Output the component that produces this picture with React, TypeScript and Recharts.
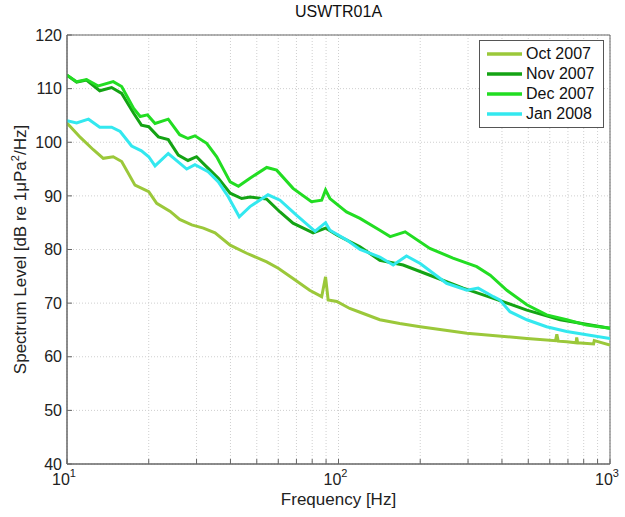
import { LineChart, Line, XAxis, YAxis, CartesianGrid, Legend, ReferenceArea } from "recharts";

// frequencies in Hz, levels in dB re 1 uPa^2/Hz
const octFreq = [10, 11.2, 12.5, 13.6, 14.8, 15.9, 17.8, 20.0, 21.4, 24.0, 26.0, 28.8, 31.8, 35.1, 39.9, 45.9, 54.4, 60.0, 68.0, 78.3, 86.7, 89.6, 91.6, 98.6, 110, 120, 142, 168, 200, 297, 494, 630, 637, 645, 693, 750, 754, 760, 870, 875, 1000];
const octLevel = [103.6, 100.9, 98.6, 97.0, 97.3, 96.4, 92.0, 90.8, 88.6, 87.1, 85.6, 84.6, 84.0, 83.1, 80.8, 79.3, 77.7, 76.5, 74.6, 72.4, 71.2, 74.9, 70.6, 70.3, 69.0, 68.3, 66.9, 66.2, 65.6, 64.4, 63.4, 63.0, 64.2, 62.9, 62.8, 62.6, 63.6, 62.6, 62.4, 63.0, 62.2];

const novFreq = [10, 10.85, 11.8, 13.2, 14.6, 15.9, 17.6, 18.8, 20.0, 21.7, 23.6, 25.7, 27.9, 30.0, 32.7, 36.1, 39.9, 44.0, 47.2, 54.4, 60.9, 68.0, 80.6, 89.6, 98.6, 120, 142, 173, 217, 288, 372, 494, 655, 1000];
const novLevel = [112.5, 111.2, 111.6, 109.6, 110.2, 109.1, 105.4, 103.2, 102.9, 101.0, 100.5, 97.6, 96.6, 97.3, 95.4, 93.3, 90.5, 89.5, 89.8, 89.4, 87.0, 84.9, 83.1, 84.0, 82.7, 80.5, 78.0, 77.1, 75.2, 72.8, 70.9, 68.7, 66.9, 65.3];

const decFreq = [10, 10.85, 11.8, 13.04, 14.8, 15.9, 17.6, 18.6, 19.8, 21.1, 23.6, 26.0, 27.9, 29.6, 32.7, 35.6, 39.9, 42.8, 47.2, 54.4, 59.2, 68.0, 79.5, 86.7, 89.6, 93.0, 107, 120, 142, 155, 176, 217, 264, 323, 362, 417, 494, 584, 693, 820, 1000];
const decLevel = [112.5, 111.3, 111.7, 110.5, 111.3, 110.4, 106.3, 104.8, 105.1, 103.5, 104.3, 101.4, 100.7, 101.2, 99.8, 97.3, 92.6, 91.8, 93.3, 95.3, 94.8, 91.4, 88.9, 89.2, 91.1, 89.5, 87.0, 85.8, 83.6, 82.4, 83.3, 80.2, 78.4, 76.8, 75.2, 72.4, 69.7, 67.8, 66.9, 65.9, 65.3];

const janFreq = [10, 10.85, 12.0, 13.2, 14.6, 15.7, 17.3, 18.8, 20.0, 21.1, 23.6, 27.6, 29.6, 33.1, 36.1, 39.3, 43.1, 47.2, 55.0, 60.9, 70.0, 82.0, 89.6, 93.0, 107, 120, 142, 159, 178, 200, 250, 297, 327, 372, 393, 428, 494, 584, 693, 820, 1000];
const janLevel = [104.0, 103.6, 104.3, 102.8, 102.8, 102.0, 99.3, 98.4, 97.3, 95.6, 97.9, 95.0, 95.8, 94.5, 92.6, 89.8, 86.1, 88.0, 90.2, 89.2, 86.4, 83.4, 85.0, 83.6, 81.8, 80.0, 78.6, 77.1, 78.8, 77.4, 73.7, 72.4, 72.8, 71.2, 70.6, 68.4, 66.9, 65.6, 64.7, 64.1, 63.4];

const xTicks = [10, 20, 30, 40, 50, 60, 70, 80, 90, 100, 200, 300, 400, 500, 600, 700, 800, 900, 1000];
const yTicks = [40, 50, 60, 70, 80, 90, 100, 110, 120];

const toPoints = (f: number[], v: number[]) => f.map((x, i) => ({ f: x, level: v[i] }));

const series = [
  { name: "Oct 2007", color: "#9bc83a", data: toPoints(octFreq, octLevel) },
  { name: "Nov 2007", color: "#14a314", data: toPoints(novFreq, novLevel) },
  { name: "Dec 2007", color: "#22dd22", data: toPoints(decFreq, decLevel) },
  { name: "Jan 2008", color: "#33e8ef", data: toPoints(janFreq, janLevel) },
];

const font = "'Liberation Sans', Arial, sans-serif";
const axisColor = "#666";

function DecadeTick({ x, y, payload }: any) {
  const exp = Math.round(Math.log10(payload.value));
  if (Math.abs(Math.log10(payload.value) - exp) > 1e-6) return null;
  return (
    <text x={x - 3} y={y + 16} textAnchor="middle" fontSize={16} fill="#222" fontFamily={font}>
      10
      <tspan dy={-8} fontSize={11}>{exp}</tspan>
    </text>
  );
}

const NoLabel = () => <g />;

function YLabel({ viewBox }: any) {
  const cy = viewBox.y + viewBox.height / 2;
  return (
    <text transform={`translate(26, ${cy}) rotate(-90)`} textAnchor="middle" fontSize={17} fill="#222" fontFamily={font}>
      Spectrum Level [dB re 1μPa
      <tspan dy={-7} fontSize={11}>2</tspan>
      <tspan dy={7}>/Hz]</tspan>
    </text>
  );
}

function LegendBox() {
  return (
    <div style={{ border: "1px solid #555", background: "#fff", padding: "3px 6px 3px 7px", fontFamily: font, fontSize: 16, color: "#111", whiteSpace: "nowrap", boxSizing: "border-box", width: 125 }}>
      {series.map((s) => (
        <div key={s.name} style={{ display: "flex", alignItems: "center", height: 20 }}>
          <svg width={35} height={6} style={{ marginRight: 4, flexShrink: 0 }}>
            <line x1={0} y1={3} x2={35} y2={3} stroke={s.color} strokeWidth={3.5} />
          </svg>
          <span>{s.name}</span>
        </div>
      ))}
    </div>
  );
}

export default function App() {
  return (
    <div style={{ position: "absolute", left: 0, top: 0, width: 625, height: 517, background: "#fff" }}>
      <div style={{ position: "absolute", top: 3, left: 0, width: 625, paddingLeft: 52, boxSizing: "border-box", textAlign: "center", fontFamily: font, fontSize: 16, color: "#111" }}>
        USWTR01A
      </div>
      <LineChart width={625} height={517} margin={{ top: 35, right: 15, bottom: 0, left: 0 }}>
        <CartesianGrid stroke="#cfcfcf" strokeDasharray="1 2" />
        <XAxis
          dataKey="f"
          type="number"
          scale="log"
          domain={[10, 1000]}
          ticks={xTicks}
          allowDataOverflow
          height={53}
          tickSize={-5}
          tickMargin={10}
          tickLine={{ stroke: axisColor }}
          axisLine={{ stroke: axisColor }}
          tick={<DecadeTick />}
          interval={0}
          label={{ value: "Frequency [Hz]", position: "insideBottom", offset: 12, fontSize: 17, fill: "#222", fontFamily: font }}
        />
        <XAxis
          xAxisId="top"
          orientation="top"
          dataKey="f"
          type="number"
          scale="log"
          domain={[10, 1000]}
          ticks={xTicks}
          allowDataOverflow
          height={0}
          tickSize={-5}
          tickLine={{ stroke: axisColor }}
          axisLine={false}
          tick={<NoLabel />}
          interval={0}
        />
        <YAxis
          type="number"
          domain={[40, 120]}
          ticks={yTicks}
          width={67}
          tickSize={-5}
          tickMargin={10}
          tickLine={{ stroke: axisColor }}
          axisLine={{ stroke: axisColor }}
          tick={{ fontSize: 16, fill: "#222", fontFamily: font }}
          interval={0}
          label={{ content: <YLabel /> }}
        />
        <YAxis
          yAxisId="right"
          orientation="right"
          type="number"
          domain={[40, 120]}
          ticks={yTicks}
          width={0}
          tickSize={-5}
          tickLine={{ stroke: axisColor }}
          axisLine={false}
          tick={<NoLabel />}
          interval={0}
        />
        <ReferenceArea x1={10} x2={1000} y1={40} y2={120} fill="none" stroke={axisColor} strokeWidth={1} ifOverflow="visible" />
        {series.map((s) => (
          <Line
            key={s.name}
            data={s.data}
            dataKey="level"
            name={s.name}
            type="linear"
            stroke={s.color}
            strokeWidth={3}
            dot={false}
            isAnimationActive={false}
          />
        ))}
        <Legend
          layout="vertical"
          align="center"
          verticalAlign="middle"
          content={<LegendBox />}
          wrapperStyle={{ position: "absolute", top: 40, left: 479, width: 125 }}
        />
      </LineChart>
    </div>
  );
}
